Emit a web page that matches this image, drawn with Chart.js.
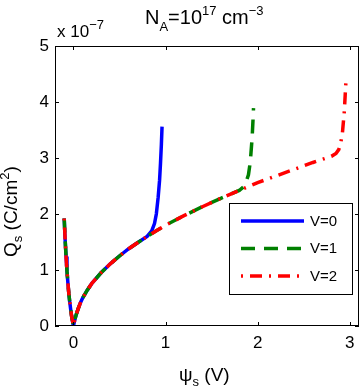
<!DOCTYPE html>
<html>
<head>
<meta charset="utf-8">
<script src="https://cdn.jsdelivr.net/npm/chart.js@4/dist/chart.umd.min.js"></script>
<style>
html,body{margin:0;padding:0;background:#fff;}
canvas{display:block;}
</style>
</head>
<body>
<canvas id="c" width="362" height="386"></canvas>
<script>
// ---- data (Qs in units of 1e-7 C/cm^2) ----
const xTicks = [0, 1, 2, 3];
const yTicks = [0, 1, 2, 3, 4, 5];
const seriesLabels = ['V=0', 'V=1', 'V=2'];

const psiV0 = [-0.1,-0.09,-0.08,-0.07,-0.06,-0.05,-0.04,-0.03,-0.02,-0.01,0,0.01,0.02,0.03,0.05,0.075,0.1,0.15,0.2,0.3,0.4,0.5,0.6,0.7,0.8,0.85,0.88,0.9,0.92,0.935,0.945,0.955,0.962];
const qsV0  = [1.92,1.54,1.24,0.98,0.77,0.58,0.43,0.30,0.18,0.09,0,0.075,0.14,0.20,0.30,0.41,0.50,0.64,0.76,0.95,1.11,1.25,1.38,1.49,1.60,1.70,1.83,2.00,2.30,2.60,2.90,3.25,3.56];

const psiV1 = [-0.1,-0.09,-0.08,-0.07,-0.06,-0.05,-0.04,-0.03,-0.02,-0.01,0,0.01,0.02,0.03,0.05,0.075,0.1,0.15,0.2,0.3,0.4,0.5,0.6,0.7,0.8,0.9,1.0,1.2,1.4,1.6,1.8,1.85,1.88,1.9,1.92,1.94,1.95,1.955];
const qsV1  = [1.92,1.54,1.24,0.98,0.77,0.58,0.43,0.30,0.18,0.09,0,0.075,0.14,0.20,0.30,0.41,0.50,0.64,0.76,0.95,1.11,1.25,1.38,1.49,1.60,1.70,1.80,1.97,2.13,2.28,2.42,2.49,2.60,2.70,2.93,3.36,3.70,3.89];

const psiV2 = [-0.1,-0.09,-0.08,-0.07,-0.06,-0.05,-0.04,-0.03,-0.02,-0.01,0,0.01,0.02,0.03,0.05,0.075,0.1,0.15,0.2,0.3,0.4,0.5,0.6,0.7,0.8,0.9,1.0,1.2,1.4,1.6,1.8,2.0,2.2,2.4,2.6,2.8,2.85,2.88,2.9,2.92,2.94,2.95,2.96];
const qsV2  = [1.92,1.54,1.24,0.98,0.77,0.58,0.43,0.30,0.18,0.09,0,0.075,0.14,0.20,0.30,0.41,0.50,0.64,0.76,0.95,1.11,1.25,1.38,1.49,1.60,1.70,1.80,1.97,2.13,2.28,2.42,2.56,2.68,2.80,2.92,3.03,3.08,3.15,3.25,3.45,3.82,4.12,4.42];

const toXY = (xs, ys) => xs.map((x, i) => ({x: x, y: ys[i]}));

const FONT = '"Liberation Sans", Arial, sans-serif';

function drawRich(ctx, parts, x, y, big, small, subOff, supOff) {
  let cx = x;
  for (const p of parts) {
    const f = p.s ? small : big;
    ctx.font = f + 'px ' + FONT;
    const dy = p.s === 'sub' ? subOff : (p.s === 'sup' ? -supOff : 0);
    ctx.fillText(p.t, cx, y + dy);
    cx += ctx.measureText(p.t).width;
  }
  return cx - x;
}

const decorPlugin = {
  id: 'decor',
  afterDraw(chart) {
    const ctx = chart.ctx;
    const a = chart.chartArea;
    const xs = chart.scales.x, ys = chart.scales.y;
    ctx.save();
    // box
    ctx.strokeStyle = '#000';
    ctx.lineWidth = 1;
    ctx.strokeRect(Math.round(a.left) + 0.5, Math.round(a.top) + 0.5, Math.round(a.right - a.left) - 1, Math.round(a.bottom - a.top) - 1);
    // inward ticks
    const tl = 4;
    ctx.beginPath();
    for (const v of xTicks) {
      const px = Math.round(xs.getPixelForValue(v)) + 0.5;
      ctx.moveTo(px, a.bottom); ctx.lineTo(px, a.bottom - tl);
      ctx.moveTo(px, a.top); ctx.lineTo(px, a.top + tl);
    }
    for (const v of yTicks) {
      const py = Math.round(ys.getPixelForValue(v)) + 0.5;
      ctx.moveTo(a.left, py); ctx.lineTo(a.left + tl, py);
      ctx.moveTo(a.right, py); ctx.lineTo(a.right - tl, py);
    }
    ctx.stroke();

    ctx.fillStyle = '#000';
    ctx.textBaseline = 'alphabetic';
    ctx.textAlign = 'left';
    // title
    drawRich(ctx, [{t:'N'},{t:'A',s:'sub'},{t:'=10'},{t:'17',s:'sup'},{t:' cm'},{t:'\u22123',s:'sup'}], 145, 23.5, 20, 13, 7, 9);
    // exponent label
    drawRich(ctx, [{t:'x 10'},{t:'\u22127',s:'sup'}], 57, 37, 17, 13, 0, 8);
    // x label
    drawRich(ctx, [{t:'\u03C8'},{t:'s',s:'sub'},{t:' (V)'}], 179, 381, 19, 13, 5, 0);
    // y label
    ctx.save();
    ctx.translate(17, 257);
    ctx.rotate(-Math.PI / 2);
    drawRich(ctx, [{t:'Q'},{t:'s',s:'sub'},{t:' (C/cm'},{t:'2',s:'sup'},{t:')'}], 0, 0, 19, 13, 5, 8);
    ctx.restore();

    // legend
    const lx = 229.5, ly = 203.5, lw = 123, lh = 91;
    ctx.fillStyle = '#fff';
    ctx.fillRect(lx, ly, lw, lh);
    ctx.strokeStyle = '#000';
    ctx.lineWidth = 1;
    ctx.setLineDash([]);
    ctx.strokeRect(lx, ly, lw, lh);
    const rows = [221, 248.5, 276];
    chart.data.datasets.forEach((ds, i) => {
      const y = rows[i];
      ctx.strokeStyle = ds.borderColor;
      ctx.lineWidth = ds.borderWidth;
      ctx.setLineDash(ds.borderDash || []);
      ctx.lineDashOffset = ds.borderDashOffset || 0;
      ctx.lineCap = 'butt';
      ctx.beginPath();
      ctx.moveTo(241, y); ctx.lineTo(304, y);
      ctx.stroke();
      ctx.setLineDash([]);
      ctx.fillStyle = '#000';
      ctx.font = '15px ' + FONT;
      ctx.textBaseline = 'middle';
      ctx.fillText(ds.label, 310, y + 0.5);
    });
    ctx.restore();
  }
};

new Chart(document.getElementById('c'), {
  type: 'line',
  data: {
    datasets: [
      {label: seriesLabels[0], data: toXY(psiV0, qsV0), borderColor: '#0000ff', borderWidth: 3.5, pointRadius: 0, tension: 0, order: 2},
      {label: seriesLabels[1], data: toXY(psiV1, qsV1), borderColor: '#008000', borderWidth: 3.5, borderDash: [14, 9], pointRadius: 0, tension: 0, order: 1},
      {label: seriesLabels[2], data: toXY(psiV2, qsV2), borderColor: '#ff0000', borderWidth: 3.5, borderDash: [12, 7, 2, 7], borderDashOffset: 19, pointRadius: 0, tension: 0, order: 0}
    ]
  },
  options: {
    responsive: false,
    animation: false,
    devicePixelRatio: 1,
    layout: {padding: {left: 0, right: 3, top: 46, bottom: 0}},
    plugins: {legend: {display: false}, tooltip: {enabled: false}},
    scales: {
      x: {
        type: 'linear', min: -0.2, max: 3.1,
        afterBuildTicks: s => { s.ticks = xTicks.map(v => ({value: v})); },
        afterFit: s => { s.height = 60; },
        grid: {display: false, drawTicks: false},
        border: {display: false},
        ticks: {font: {family: FONT, size: 17}, color: '#000', padding: 7, maxRotation: 0}
      },
      y: {
        type: 'linear', min: 0, max: 5,
        afterBuildTicks: s => { s.ticks = yTicks.map(v => ({value: v})); },
        afterFit: s => { s.width = 55; },
        grid: {display: false, drawTicks: false},
        border: {display: false},
        ticks: {font: {family: FONT, size: 17}, color: '#000', padding: 6}
      }
    }
  },
  plugins: [decorPlugin]
});
</script>
</body>
</html>
